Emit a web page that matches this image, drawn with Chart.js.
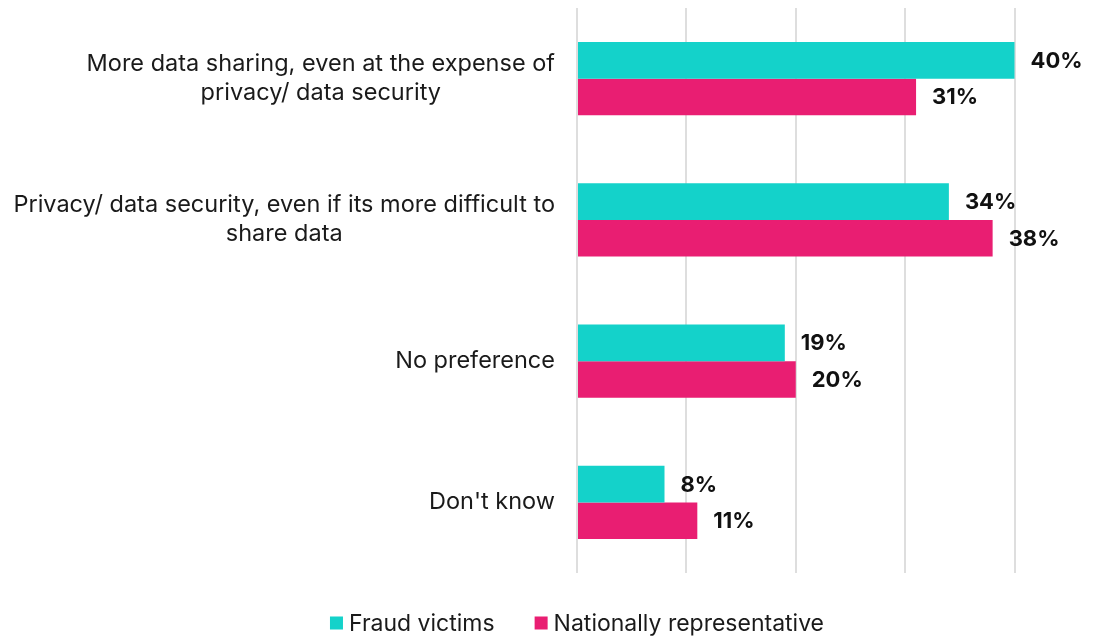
<!DOCTYPE html>
<html lang="en">
<head>
    <meta charset="UTF-8">
    <title>Data sharing vs privacy</title>
    <style>
        body {
            margin: 0;
            background: #ffffff;
        }
        .wrap {
            width: 1116px;
            height: 637px;
        }
    </style>
    <script src="https://cdn.jsdelivr.net/npm/chart.js"></script>
</head>
<body>
    <div class="wrap">
        <canvas id="grafico" width="1116" height="637"></canvas>
    </div>
    <script>
        // categories, one array of lines per label
        const categorias = [
            ['More data sharing, even at the expense of', 'privacy/ data security'],
            ['Privacy/ data security, even if its more difficult to', 'share data'],
            ['No preference'],
            ["Don't know"]
        ];
        const series = ['Fraud victims', 'Nationally representative'];
        const fraudeVitimas = [40, 34, 19, 8];
        const representativo = [31, 38, 20, 11];
        const cores = ['#14d2ca', '#e91e72'];
        const gradeValores = [0, 10, 20, 30, 40];

        const FONTE = 'Inter, "DejaVu Sans", sans-serif';
        const LABEL_RIGHT = 555;

        // y category labels: widest line right-aligned, other lines centred under it
        const rotulosY = {
            id: 'rotulosY',
            afterDraw(chart) {
                const ctx = chart.ctx;
                const y = chart.scales.y;
                ctx.save();
                ctx.font = '23.5px ' + FONTE;
                ctx.fillStyle = '#1a1a1a';
                ctx.textAlign = 'center';
                ctx.textBaseline = 'middle';
                categorias.forEach((linhas, i) => {
                    const cy = y.getPixelForTick(i);
                    const largura = Math.max(...linhas.map(l => ctx.measureText(l).width));
                    const cx = LABEL_RIGHT - largura / 2;
                    const passo = 29;
                    const inicio = cy - (linhas.length - 1) * passo / 2;
                    linhas.forEach((l, k) => ctx.fillText(l, cx, inicio + k * passo));
                });
                ctx.restore();
            }
        };

        // value labels at the end of each bar
        const rotulosValor = {
            id: 'rotulosValor',
            afterDatasetsDraw(chart) {
                const ctx = chart.ctx;
                ctx.save();
                ctx.font = 'bold 22px ' + FONTE;
                ctx.fillStyle = '#111111';
                ctx.textAlign = 'left';
                ctx.textBaseline = 'middle';
                chart.data.datasets.forEach((ds, d) => {
                    chart.getDatasetMeta(d).data.forEach((bar, i) => {
                        ctx.fillText(ds.data[i] + '%', bar.x + 16, bar.y + 1);
                    });
                });
                ctx.restore();
            }
        };

        // legend under the plot
        const legenda = {
            id: 'legenda',
            afterDraw(chart) {
                const ctx = chart.ctx;
                ctx.save();
                ctx.font = '23px ' + FONTE;
                ctx.textBaseline = 'middle';
                const box = 13, gapTexto = 6, gapItem = 40;
                const itens = chart.data.datasets.map(ds => ({ texto: ds.label, cor: ds.backgroundColor }));
                let total = 0;
                itens.forEach((it, k) => {
                    it.w = box + gapTexto + ctx.measureText(it.texto).width;
                    total += it.w + (k ? gapItem : 0);
                });
                let x = 577 - total / 2;
                const cy = 623;
                itens.forEach(it => {
                    ctx.fillStyle = it.cor;
                    ctx.fillRect(x, cy - box / 2, box, box);
                    ctx.fillStyle = '#1a1a1a';
                    ctx.fillText(it.texto, x + box + gapTexto, cy + 1);
                    x += it.w + gapItem;
                });
                ctx.restore();
            }
        };

        new Chart(document.getElementById('grafico'), {
            type: 'bar',
            data: {
                labels: categorias.map(c => c.join(' ')),
                datasets: [
                    { label: series[0], data: fraudeVitimas, backgroundColor: cores[0] },
                    { label: series[1], data: representativo, backgroundColor: cores[1] }
                ]
            },
            options: {
                indexAxis: 'y',
                responsive: false,
                animation: false,
                layout: { padding: { top: 8, bottom: 64, left: 0, right: 14 } },
                datasets: {
                    bar: { categoryPercentage: 0.517, barPercentage: 1.0 }
                },
                scales: {
                    x: {
                        min: 0,
                        max: 48,
                        ticks: { display: false, stepSize: 10 },
                        afterBuildTicks(scale) {
                            scale.ticks = gradeValores.map(v => ({ value: v }));
                        },
                        grid: { color: '#dedede', lineWidth: 2, drawTicks: false },
                        border: { display: false }
                    },
                    y: {
                        ticks: { display: false },
                        grid: { display: false, drawTicks: false },
                        border: { display: false },
                        afterFit(scale) { scale.width = 577; }
                    }
                },
                plugins: {
                    legend: { display: false },
                    tooltip: { enabled: false }
                }
            },
            plugins: [rotulosY, rotulosValor, legenda]
        });
    </script>
</body>
</html>
